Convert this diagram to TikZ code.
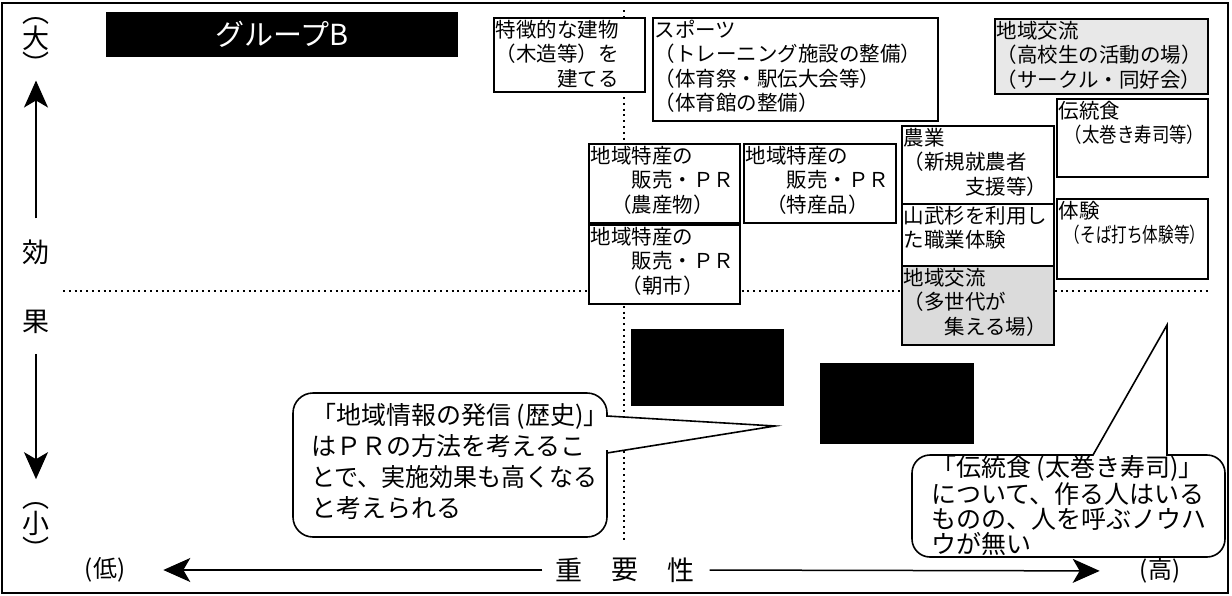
\documentclass[tikz,border=0pt]{standalone}
\usepackage{fontspec}
\usepackage{graphicx}
\setmainfont{Noto Sans CJK JP}
\usetikzlibrary{arrows.meta}

% text block inside a box: width, height (pt), lines
\newcommand{\cellbox}[3]{\parbox[t][\dimexpr#2pt-4pt\relax][t]{\dimexpr#1pt-4pt\relax}{\raggedright #3}}
\newcommand{\squeeze}[2]{\scalebox{#1}[1]{#2}}

\begin{document}
\begin{tikzpicture}[x=1pt,y=-1pt,
    cell/.style={draw, line width=1.6pt, fill=white, anchor=north west, inner sep=2pt,
                 font=\fontsize{20.5}{24.5}\selectfont},
    axis label/.style={inner sep=0pt, font=\fontsize{27}{27}\selectfont},
    end label/.style={inner sep=0pt, font=\fontsize{24}{24}\selectfont},
    axis arrow/.style={line width=1.5pt, -{Stealth[length=27pt,width=24pt,inset=7pt]}},
    grid line/.style={line width=2.2pt, dash pattern=on 2pt off 3.8pt},
    bubble/.style={draw, line width=1.6pt, fill=white},
    note/.style={anchor=north west, align=left, inner sep=0pt}]
    \useasboundingbox (0,0) rectangle (1232,595);
    \draw[line width=1.4pt] (2,3) rectangle (1228,593);
    % quadrant lines
    \draw[grid line] (63,291) -- (1210,291);
    \draw[grid line] (624,10) -- (624,543);
    % title
    \node[fill=black, text=white, anchor=north west, minimum width=352pt, minimum height=45pt,
          font=\fontsize{29}{29}\selectfont] (grpB) at (106,12) {グループB};
    % vertical axis
    \node[axis label] (kBig) at (36,38) {大};
    \node[axis label, anchor=south] (kBigOpen) at ([yshift=1pt]kBig.north) {︵};
    \node[axis label, anchor=north] (kBigClose) at ([yshift=-1pt]kBig.south) {︶};
    \node[axis label] (kKou) at (36,252) {効};
    \node[axis label] (kKa) at (36,322) {果};
    \node[axis label] (kSmall) at (36,523) {小};
    \node[axis label, anchor=south] (kSmallOpen) at ([yshift=1pt]kSmall.north) {︵};
    \node[axis label, anchor=north] (kSmallClose) at ([yshift=-1pt]kSmall.south) {︶};
    \draw[axis arrow, shorten <=21pt, shorten >=6pt] (kKou.north) -- (kBigClose.south);
    \draw[axis arrow, shorten <=20pt, shorten >=23pt] (kKa.south) -- (kSmallOpen.north);
    % horizontal axis
    \node[end label] (kLow) at (105,570) {(低)};
    \node[axis label] (kJu) at (569,570) {重};
    \node[axis label] (kYou) at (625,570) {要};
    \node[axis label] (kSei) at (681,570) {性};
    \node[end label] (kHigh) at (1160,571) {(高)};
    \draw[axis arrow, shorten <=13pt, shorten >=38pt] (kJu.west) -- (kLow.east);
    \draw[axis arrow, shorten <=15pt, shorten >=40pt] (kSei.east) -- (kHigh.west);
    % items
    \node[cell] (bTatemono) at (493,17) {\cellbox{151}{74}{特徴的な建物\\（木造等）を\\\hspace*{3em}建てる}};
    \node[cell] (bSports) at (652,17) {\cellbox{285}{103}{スポーツ\\（トレーニング施設の整備）\\（体育祭・駅伝大会等）\\（体育館の整備）}};
    \node[cell, fill=black!9] (bKoryuA) at (994,18) {\cellbox{213}{75}{地域交流\\（高校生の活動の場）\\（サークル・同好会）}};
    \node[cell] (bDentou) at (1056,98) {\cellbox{151}{78}{伝統食\\\hspace*{0.3em}\squeeze{0.85}{（太巻き寿司等）}}};
    \node[cell] (bNogyo) at (901,125) {\cellbox{152}{78}{農業\\（新規就農者\\\hspace*{3em}支援等）}};
    \node[cell] (bNosan) at (588,143) {\cellbox{151}{79}{地域特産の\\\hspace*{2em}販売・ＰＲ\\\hspace*{1em}（農産物）}};
    \node[cell] (bTokusan) at (743,143) {\cellbox{152}{79}{地域特産の\\\hspace*{2em}販売・ＰＲ\\\hspace*{1em}（特産品）}};
    \node[cell] (bAsaichi) at (588,224) {\cellbox{151}{79}{地域特産の\\\hspace*{2em}販売・ＰＲ\\\hspace*{1.5em}（朝市）}};
    \node[cell] (bSugi) at (901,203) {\cellbox{152}{62}{山武杉を利用し\\た職業体験}};
    \node[cell] (bTaiken) at (1056,198) {\cellbox{151}{80}{体験\\\hspace*{0.3em}\squeeze{0.76}{（そば打ち体験等）}}};
    \node[cell, fill=black!14] (bKoryuB) at (901,265) {\cellbox{152}{79}{地域交流\\（多世代が\\\hspace*{2em}集える場）}};
    % masked items
    \fill (631,329) rectangle (784,406);
    \fill (820,363) rectangle (974,444);
    % comments
    \coordinate (tipL) at (775,426);
    \coordinate (tipR) at (1167,325);
    \draw[bubble] (607,453) -- (tipL) -- (607,416) -- (607,414) [rounded corners=20pt]
        -- (607,393) -- (293,393) -- (293,537) -- (607,537) -- (607,470) [sharp corners] -- cycle;
    \draw[bubble] (1093,455) -- (tipR) -- (1167,455) -- (1190,455) [rounded corners=18pt]
        -- (1225,455) -- (1225,557) -- (912,557) -- (912,455) -- (1060,455) [sharp corners] -- cycle;
    \node[note, font=\fontsize{25}{31}\selectfont] (noteL) at (311,403)
        {「地域情報の発信 (歴史)」\\はＰＲの方法を考えるこ\\\squeeze{0.96}{とで、実施効果も高くなる}\\と考えられる};
    \node[note, font=\fontsize{25}{25}\selectfont] (noteR) at (931,455)
        {「伝統食 (太巻き寿司)」\\について、作る人はいる\\ものの、人を呼ぶノウハ\\ウが無い};
\end{tikzpicture}
\end{document}
